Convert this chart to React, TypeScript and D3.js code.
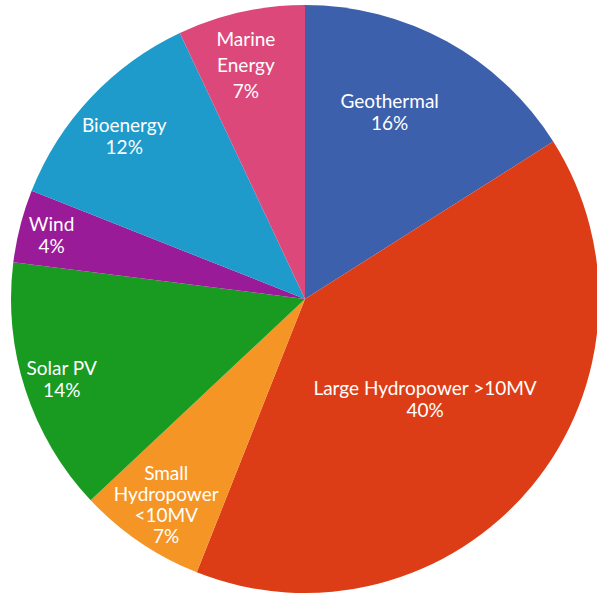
import React from "react";
import * as d3 from "d3";

const categories = [
  "Geothermal",
  "Large Hydropower >10MV",
  "Small Hydropower <10MV",
  "Solar PV",
  "Wind",
  "Bioenergy",
  "Marine Energy",
];
const values = [16, 40, 7, 14, 4, 12, 7];
const colors = ["#3D60AD", "#DD3D16", "#F59526", "#199A21", "#9A1B97", "#1E9BCB", "#DD487A"];
// label text lines as displayed
const labelLines = [
  ["Geothermal", "16%"],
  ["Large Hydropower >10MV", "40%"],
  ["Small", "Hydropower", "<10MV", "7%"],
  ["Solar PV", "14%"],
  ["Wind", "4%"],
  ["Bioenergy", "12%"],
  ["Marine", "Energy", "7%"],
];

const W = 597;
const H = 594;
const cx = 305;
const cy = 299;
const R = 294;
// label placement: fraction of radius, angle shift in degrees, line height
const placement = [
  { f: 0.7, shift: -4.5, lh: 22 },
  { f: 0.53, shift: 0, lh: 22 },
  { f: 0.84, shift: 0, lh: 21 },
  { f: 0.87, shift: 0, lh: 22 },
  { f: 0.89, shift: 0, lh: 22 },
  { f: 0.83, shift: -1, lh: 22 },
  { f: 0.825, shift: -1.5, lh: 26 },
];

export default function App() {
  const data = categories.map((c, i) => ({ c, v: values[i], i }));
  const pie = d3.pie<any>().value((d) => d.v).sort(null).startAngle(0).endAngle(2 * Math.PI);
  const arcs = pie(data);
  const arc = d3.arc<any>().innerRadius(0).outerRadius(R);
  return (
    <svg
      width={W}
      height={H}
      style={{ position: "fixed", left: 0, top: 0, display: "block" }}
      fontFamily="Lato, 'Noto Sans', sans-serif"
    >
      <rect width={W} height={H} fill="#fff" />
      <g transform={`translate(${cx},${cy})`}>
        {arcs.map((a, i) => (
          <path key={i} d={arc(a) as string} fill={colors[i]} />
        ))}
        {arcs.map((a, i) => {
          const p = placement[i];
          const mid = (a.startAngle + a.endAngle) / 2 + (p.shift * Math.PI) / 180;
          const r = R * p.f;
          const x = Math.sin(mid) * r;
          const y = -Math.cos(mid) * r;
          const lines = labelLines[i];
          const top = y - ((lines.length - 1) * p.lh) / 2;
          return (
            <text
              key={i}
              fill="#fff"
              fontSize={19}
              textAnchor="middle"
              dominantBaseline="central"
            >
              {lines.map((l, k) => (
                <tspan key={k} x={x} y={top + k * p.lh}>
                  {l}
                </tspan>
              ))}
            </text>
          );
        })}
      </g>
    </svg>
  );
}
